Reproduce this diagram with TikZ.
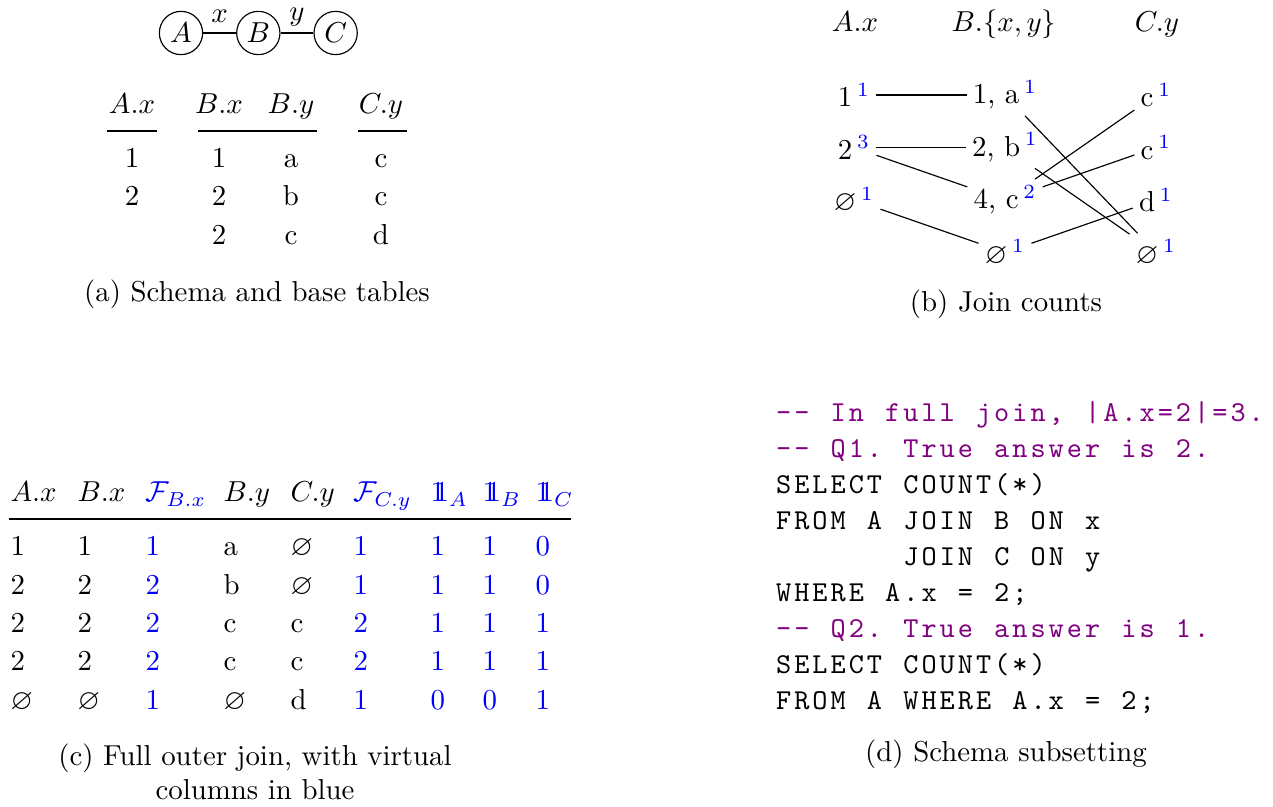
\documentclass[tikz,border=0pt]{standalone}
\usepackage{amsmath, amssymb}
\usepackage{xcolor}
\usetikzlibrary{positioning}
\definecolor{sqlcomment}{HTML}{800080}

% join count as a blue superscript
\newcommand{\jc}[1]{\ensuremath{\,^{\textcolor{blue}{#1}}}}
% double-struck one (indicator)
\newcommand{\indic}{\mathrm{1\kern-0.36em1}}

% fixed-pitch code line, one box per character
\ExplSyntaxOn
\NewDocumentCommand \fixedtt { m }
  { \str_map_inline:nn { #1 } { \makebox[6.3pt][c]{##1} } }
\ExplSyntaxOff

\begin{document}
\begin{tikzpicture}[
    x=0.3466pt, y=-0.3466pt,
    rel/.style={draw, circle, minimum size=15pt, inner sep=0pt},
    elbl/.style={above, text depth=0pt},
    hcell/.style={inner sep=0pt, anchor=base},
    cell/.style={inner sep=0pt, anchor=base west},
    cnt/.style={inner sep=2pt},
    rule/.style={line width=0.5pt},
    capt/.style={anchor=base, align=center},
    sql/.style={inner sep=0pt, anchor=base west, font=\ttfamily},
    cmt/.style={sql, text=sqlcomment},
  ]
  \useasboundingbox (0,0) rectangle (1273,807);

  % ── (a) schema and base tables ──
  \node[rel] (relA) at (181,33) {$A$};
  \node[rel, right=11.4pt of relA] (relB) {$B$};
  \node[rel, right=11.4pt of relB] (relC) {$C$};
  \draw (relA) -- node[elbl] (lblx) {$x$} (relB);
  \draw (relB) -- node[elbl, yshift=0.8pt] (lbly) {$y$} (relC);

  \node[hcell] (ax) at (132,114) {$A.x$};
  \node[hcell] (bx) at (219,114) {$B.x$};
  \node[hcell] (by) at (291,114) {$B.y$};
  \node[hcell] (cy) at (381,114) {$C.y$};
  \draw[rule] (107,131) -- (157,131);
  \draw[rule] (198,131) -- (317,131);
  \draw[rule] (358,131) -- (407,131);

  \coordinate (ta1) at (0,167.5);
  \coordinate (ta2) at (0,206);
  \coordinate (ta3) at (0,244.5);
  \node[hcell] (ax1) at (ax.base |- ta1) {1};
  \node[hcell] (ax2) at (ax.base |- ta2) {2};
  \node[hcell] (bx1) at (bx.base |- ta1) {1};
  \node[hcell] (bx2) at (bx.base |- ta2) {2};
  \node[hcell] (bx3) at (bx.base |- ta3) {2};
  \node[hcell] (by1) at (by.base |- ta1) {a};
  \node[hcell] (by2) at (by.base |- ta2) {b};
  \node[hcell] (by3) at (by.base |- ta3) {c};
  \node[hcell] (cy1) at (cy.base |- ta1) {c};
  \node[hcell] (cy2) at (cy.base |- ta2) {c};
  \node[hcell] (cy3) at (cy.base |- ta3) {d};

  \node[capt] (capa) at (257,302) {(a) Schema and base tables};

  % ── (b) join counts ──
  \node[hcell] (hA) at (855,32) {$A.x$};
  \node[hcell] (hB) at (1004,32) {$B.\{x,y\}$};
  \node[hcell] (hC) at (1157,32) {$C.y$};

  \node[cnt] (a1) at (854,95) {1\jc{1}};
  \node[cnt] (a2) at (854,147.5) {2\jc{3}};
  \node[cnt] (a0) at (854,200) {$\varnothing$\jc{1}};

  \node[cnt] (b1) at (1005,95) {1, a\jc{1}};
  \node[cnt] (b2) at (1005,147.5) {2, b\jc{1}};
  \node[cnt] (b3) at (1005,200) {4, c\jc{2}};
  \node[cnt] (b0) at (1005,252.5) {$\varnothing$\jc{1}};

  \node[cnt] (c1) at (1156,95) {c\jc{1}};
  \node[cnt] (c2) at (1156,147.5) {c\jc{1}};
  \node[cnt] (c3) at (1156,200) {d\jc{1}};
  \node[cnt] (c0) at (1156,252.5) {$\varnothing$\jc{1}};

  \draw (a1) -- (b1);
  \draw (a2) -- (b2);
  \draw (a2) -- (b3);
  \draw (a0) -- (b0);
  \draw (b1) -- (c0);
  \draw (b2) -- (c0);
  \draw (b3) -- (c1);
  \draw (b3) -- (c2);
  \draw (b0) -- (c3);

  \node[capt] (capb) at (1006,312) {(b) Join counts};

  % ── (c) full outer join ──
  \foreach \v/\xx/\s [count=\c] in {$A.x$/10/black, $B.x$/77/black,
      $\mathcal{F}_{B.x}$/145/blue, $B.y$/223/black, $C.y$/290/black,
      $\mathcal{F}_{C.y}$/353/blue, $\indic_A$/430/blue,
      $\indic_B$/482/blue, $\indic_C$/535/blue}
    \node[cell, text=\s] (hd\c) at (\xx,502) {\v};
  \draw[rule] (9,519) -- (571,519);

  \coordinate (r1) at (0,556);
  \coordinate (r2) at (0,594.3);
  \coordinate (r3) at (0,632.6);
  \coordinate (r4) at (0,670.9);
  \coordinate (r5) at (0,709.2);
  \foreach \v/\s [count=\c] in {1/black, 1/black, 1/blue, a/black,
      $\varnothing$/black, 1/blue, 1/blue, 1/blue, 0/blue}
    \node[cell, text=\s] (fa\c) at (hd\c.base west |- r1) {\v};
  \foreach \v/\s [count=\c] in {2/black, 2/black, 2/blue, b/black,
      $\varnothing$/black, 1/blue, 1/blue, 1/blue, 0/blue}
    \node[cell, text=\s] (fb\c) at (hd\c.base west |- r2) {\v};
  \foreach \v/\s [count=\c] in {2/black, 2/black, 2/blue, c/black,
      c/black, 2/blue, 1/blue, 1/blue, 1/blue}
    \node[cell, text=\s] (fc\c) at (hd\c.base west |- r3) {\v};
  \foreach \v/\s [count=\c] in {2/black, 2/black, 2/blue, c/black,
      c/black, 2/blue, 1/blue, 1/blue, 1/blue}
    \node[cell, text=\s] (fd\c) at (hd\c.base west |- r4) {\v};
  \foreach \v/\s [count=\c] in {$\varnothing$/black, $\varnothing$/black,
      1/blue, $\varnothing$/black, d/black, 1/blue, 0/blue, 0/blue, 1/blue}
    \node[cell, text=\s] (fe\c) at (hd\c.base west |- r5) {\v};

  \node[capt] (capc) at (255,800)
    {(c) Full outer join, with virtual\\columns in blue};

  % ── (d) schema subsetting ──
  \node[cmt] (sql1) at (774,422) {\fixedtt{-- In full join, |A.x=2|=3.}};
  \node[cmt] (sql2) at (774,458) {\fixedtt{-- Q1. True answer is 2.}};
  \node[sql] (sql3) at (774,494) {\fixedtt{SELECT COUNT(*)}};
  \node[sql] (sql4) at (774,530) {\fixedtt{FROM A JOIN B ON x}};
  \node[sql] (sql5) at (901.3,566) {\fixedtt{JOIN C ON y}};
  \node[sql] (sql6) at (774,602) {\fixedtt{WHERE A.x = 2;}};
  \node[cmt] (sql7) at (774,638) {\fixedtt{-- Q2. True answer is 1.}};
  \node[sql] (sql8) at (774,674) {\fixedtt{SELECT COUNT(*)}};
  \node[sql] (sql9) at (774,710) {\fixedtt{FROM A WHERE A.x = 2;}};

  \node[capt] (capd) at (1006,762) {(d) Schema subsetting};

\end{tikzpicture}
\end{document}
